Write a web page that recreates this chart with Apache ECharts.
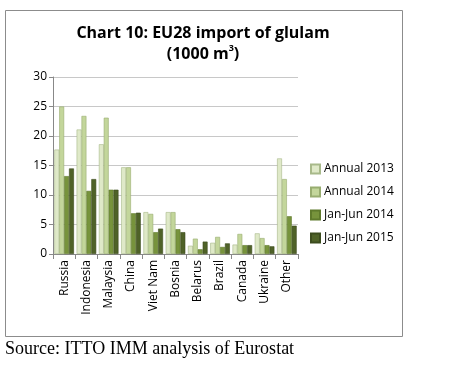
<!DOCTYPE html>
<html><head><meta charset="utf-8">
<script src="https://cdn.jsdelivr.net/npm/echarts@6/dist/echarts.min.js"></script>
<style>html,body{margin:0;padding:0;background:#fff}#c{width:454px;height:366px}</style>
</head><body><div id="c"></div>
<script>
const categories = ["Russia","Indonesia","Malaysia","China","Viet Nam","Bosnia","Belarus","Brazil","Canada","Ukraine","Other"];
const annual2013 = [17.7,21.1,18.6,14.7,7.1,7.1,1.4,1.9,1.6,3.5,16.2];
const annual2014 = [25.0,23.4,23.1,14.7,6.8,7.1,2.6,2.9,3.4,2.7,12.7];
const janJun2014 = [13.2,10.7,10.9,6.9,3.7,4.2,0.8,1.2,1.5,1.5,6.4];
const janJun2015 = [14.5,12.7,10.9,7.0,4.3,3.7,2.1,1.8,1.5,1.3,4.8];
const seriesNames = ["Annual 2013","Annual 2014","Jan-Jun 2014","Jan-Jun 2015"];
const yTicks = [0,5,10,15,20,25,30];

const colors = ['#dfe9c8','#c3d69b','#77933c','#4f6228'];
const borders = ['#a8b98a','#98ad70','#5f7a2c','#3c4c1e'];
const data = [annual2013, annual2014, janJun2014, janJun2015];

const chart = echarts.init(document.getElementById('c'), null, {renderer:'canvas'});
chart.setOption({
  animation:false,
  backgroundColor:'#fff',
  title:{
    text:'{t|Chart 10: EU28 import of glulam}\n{t|(1000 m}{s|3}{t|)}',
    left:198, top:18, textAlign:'center',
    textStyle:{rich:{
      t:{fontFamily:'Open Sans',fontSize:16,fontWeight:'bold',color:'#000',lineHeight:21},
      s:{fontFamily:'Open Sans',fontSize:9,fontWeight:'bold',color:'#000',verticalAlign:'top',lineHeight:21,padding:[0,0,6,0]}
    }}
  },
  grid:{left:53,right:156,top:77,bottom:112},
  legend:{
    orient:'vertical', left:305, top:158, itemGap:11,
    itemWidth:9,itemHeight:9, icon:'rect',
    textStyle:{fontFamily:'Open Sans',fontSize:12,color:'#000',padding:[0,0,0,-1]},
    data:seriesNames
  },
  xAxis:{
    type:'category', data:categories,
    axisLine:{lineStyle:{color:'#888'}},
    axisTick:{show:true,length:5,lineStyle:{color:'#888'}},
    axisLabel:{rotate:90,fontFamily:'Open Sans',fontSize:12,color:'#000',margin:6,interval:0}
  },
  yAxis:{
    type:'value', min:yTicks[0], max:yTicks[yTicks.length-1], interval:5,
    axisLine:{show:true,lineStyle:{color:'#888'}},
    axisTick:{show:true,length:4,lineStyle:{color:'#888'}},
    splitLine:{lineStyle:{color:'#c8c8c8'}},
    axisLabel:{fontFamily:'Open Sans',fontSize:12,color:'#000',margin:6}
  },
  series: seriesNames.map((n,i)=>({
    name:n, type:'bar', data:data[i],
    barGap:'0%', barCategoryGap:'12%',
    itemStyle:{color:colors[i],borderColor:borders[i],borderWidth:0.6}
  })),
  graphic:[
    {type:'rect',shape:{x:5.5,y:10.5,width:397,height:326},style:{fill:'none',stroke:'#8c8c8c',lineWidth:1},silent:true},
    {type:'text',left:5,top:340,style:{text:'Source: ITTO IMM analysis of Eurostat',font:'18px "Liberation Serif"',fill:'#000'}}
  ]
});
</script></body></html>
